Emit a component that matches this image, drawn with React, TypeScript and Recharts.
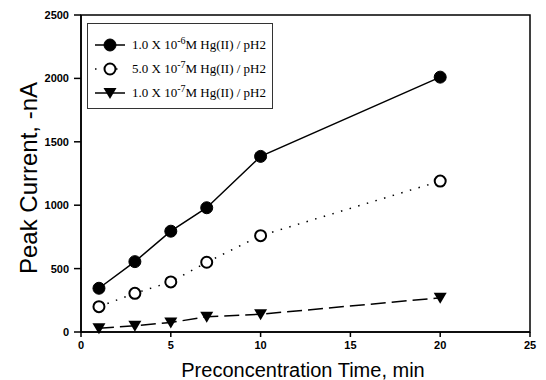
import React from "react";
import { LineChart, Line, XAxis, YAxis, ReferenceArea, Label } from "recharts";

const times = [1, 3, 5, 7, 10, 20];
const hgHigh = [345, 555, 795, 980, 1385, 2010];
const hgMid = [200, 305, 395, 550, 760, 1190];
const hgLow = [30, 50, 75, 120, 140, 270];
const xTicks = [0, 5, 10, 15, 20, 25];
const yTicks = [0, 500, 1000, 1500, 2000, 2500];

const data = times.map((t, i) => ({ t, high: hgHigh[i], mid: hgMid[i], low: hgLow[i] }));

const tickStyle = { fill: "#000", fontSize: 11, fontWeight: "bold", fontFamily: "Liberation Sans, Arial, sans-serif" };

const FilledDot = (p: any) => <circle key={p.index} cx={p.cx} cy={p.cy} r={6} fill="#000" stroke="#000" />;
const OpenDot = (p: any) => <circle key={p.index} cx={p.cx} cy={p.cy} r={5.5} fill="#fff" stroke="#000" strokeWidth={2} />;
const DownTriangle = (p: any) => (
  <path
    key={p.index}
    d={`M${p.cx - 6.5},${p.cy - 5} L${p.cx + 6.5},${p.cy - 5} L${p.cx},${p.cy + 6} Z`}
    fill="#000"
  />
);

const series = [
  { key: "high", exp: "-6", mant: "1.0", dash: undefined, dot: FilledDot },
  { key: "mid", exp: "-7", mant: "5.0", dash: "1.5 7.5", dot: OpenDot },
  { key: "low", exp: "-7", mant: "1.0", dash: "15 6", dot: DownTriangle },
];

function LegendBox() {
  return (
    <div
      style={{
        position: "absolute",
        left: 87,
        top: 23,
        width: 184,
        height: 84,
        border: "1.5px solid #333",
        fontFamily: "Liberation Serif, Times New Roman, serif",
        fontSize: 13,
        color: "#000",
      }}
    >
      {series.map((s, i) => (
        <div key={s.key} style={{ position: "absolute", left: 6, top: 11 + i * 24, height: 20, display: "flex", alignItems: "center" }}>
          <svg width={32} height={20}>
            <line x1={1} y1={10} x2={31} y2={10} stroke="#000" strokeWidth={1.5} strokeDasharray={s.key === "mid" ? "1.5 9" : undefined} />
            {s.dot({ cx: 16, cy: 10, index: 0 })}
          </svg>
          <span style={{ marginLeft: 6, whiteSpace: "nowrap" }}>
            {s.mant} X 10<sup style={{ fontSize: 10, verticalAlign: "5px", lineHeight: 0 }}>{s.exp}</sup>M Hg(II) / pH2
          </span>
        </div>
      ))}
    </div>
  );
}

export default function App() {
  return (
    <div style={{ position: "absolute", left: 0, top: 0, width: 546, height: 380, background: "#fff" }}>
      <LineChart width={546} height={380} data={data} margin={{ top: 15, right: 16, left: 0, bottom: 0 }}>
        <XAxis
          dataKey="t"
          type="number"
          domain={[0, 25]}
          ticks={xTicks}
          tickSize={5}
          tickMargin={4}
          height={48}
          stroke="#000"
          strokeWidth={1.5}
          tick={tickStyle}
        >
          <Label
            content={() => (
              <text x={303} y={377} textAnchor="middle" fontSize={20} fontFamily="Liberation Sans, Arial, sans-serif" fill="#000">
                Preconcentration Time, min
              </text>
            )}
          />
        </XAxis>
        <YAxis
          type="number"
          domain={[0, 2500]}
          ticks={yTicks}
          width={81}
          tickSize={7}
          tickMargin={5}
          stroke="#000"
          strokeWidth={1.5}
          tick={tickStyle}
        >
          <Label
            content={() => (
              <text
                x={37}
                y={178}
                textAnchor="middle"
                fontSize={24}
                fontFamily="Liberation Sans, Arial, sans-serif"
                fill="#000"
                transform="rotate(-90 37 178)"
              >
                Peak Current, -nA
              </text>
            )}
          />
        </YAxis>
        <ReferenceArea x1={0} x2={25} y1={0} y2={2500} fill="none" stroke="#000" strokeWidth={1.5} />
        {series.map((s) => (
          <Line
            key={s.key}
            dataKey={s.key}
            stroke="#000"
            strokeWidth={1.5}
            strokeDasharray={s.dash}
            dot={s.dot}
            activeDot={false}
            isAnimationActive={false}
          />
        ))}
      </LineChart>
      <LegendBox />
    </div>
  );
}
